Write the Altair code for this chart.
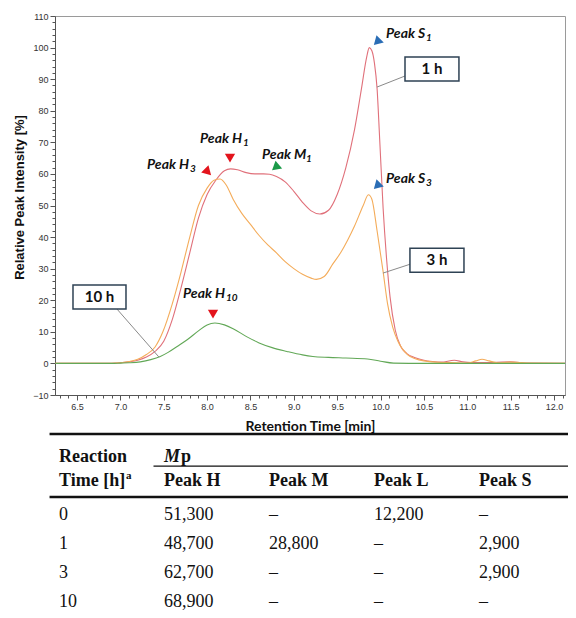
import altair as alt
import pandas as pd

# ---------------- chromatogram values (retention time [min], relative intensity [%]) ----------------
series_names = ["1 h", "3 h", "10 h"]

red_t = [6.25, 6.8, 7.0, 7.1, 7.2, 7.3, 7.4, 7.5, 7.6, 7.7, 7.8, 7.9, 8.0, 8.1, 8.2, 8.27, 8.35, 8.45,
         8.55, 8.65, 8.72, 8.8, 8.9, 9.0, 9.1, 9.2, 9.3, 9.4, 9.5, 9.6, 9.7, 9.78, 9.84, 9.87, 9.9, 9.93,
         9.96, 9.99, 10.03, 10.07, 10.11, 10.17, 10.23, 10.3, 10.4, 10.5, 10.6, 10.7, 10.85, 10.95, 11.05,
         11.3, 11.5, 11.7, 12.127]
red_v = [0, 0, 0.2, 0.5, 1.0, 2.0, 3.8, 7.0, 14, 24, 35, 46, 53.5, 58, 61, 61.6, 61.3, 60.4,
         60.0, 60.0, 59.9, 59.2, 57.5, 54.5, 51, 48.3, 47.3, 48.5, 53.5, 62, 74, 87, 97, 100, 99, 95,
         87, 71, 49, 33, 21, 10.5, 5.5, 3.2, 1.8, 1.0, 0.6, 0.4, 1.0, 0.5, 0.3,
         0.3, 0.5, 0.1, 0]

orange_t = [6.25, 6.8, 7.0, 7.1, 7.2, 7.3, 7.4, 7.49, 7.6, 7.7, 7.8, 7.9, 8.0, 8.08, 8.15, 8.22, 8.3,
            8.4, 8.5, 8.6, 8.7, 8.8, 8.9, 9.0, 9.1, 9.2, 9.26, 9.35, 9.45, 9.55, 9.62, 9.7, 9.8, 9.86,
            9.9, 9.96, 10.03, 10.08, 10.14, 10.2, 10.31, 10.4, 10.5, 10.7, 10.9, 11.0, 11.1, 11.17,
            11.25, 11.35, 11.5, 11.7, 12.127]
orange_v = [0, 0, 0.2, 0.6, 1.3, 2.8, 5.2, 10, 19, 29, 40, 50, 55.5, 58, 58.4, 56.5, 52,
            47.5, 44, 40.5, 37.5, 35, 32.2, 30, 28.2, 27, 26.6, 27.5, 31.5, 35.5, 39, 43.5, 50, 53.4,
            52, 42, 29, 19, 11.5, 7, 2.8, 1.5, 0.8, 0.3, 0.2, 0.1, 0.8, 1.3,
            0.8, 0.2, 0.4, 0.1, 0]

green_t = [6.25, 6.9, 7.0, 7.1, 7.23, 7.35, 7.46, 7.55, 7.65, 7.77, 7.9, 8.0, 8.09, 8.2, 8.3, 8.46,
           8.6, 8.75, 8.92, 9.1, 9.22, 9.4, 9.6, 9.85, 10.0, 10.15, 10.5, 12.127]
green_v = [0, 0, 0.1, 0.2, 0.5, 1.2, 2.2, 3.5, 5.3, 7.5, 10.3, 12.2, 12.8, 12.2, 11.0, 8.4,
           6.5, 5.0, 3.8, 2.7, 2.2, 1.9, 1.7, 1.4, 0.7, 0.1, 0, 0]

# ---------------- peak annotations (data coordinates) ----------------
peak_names = ["Peak S", "Peak S", "Peak H", "Peak M", "Peak H", "Peak H"]
peak_subs = ["1", "3", "1", "1", "3", "10"]
peak_text_x = [10.063, 10.063, 7.918, 8.633, 7.307, 7.722]
peak_text_y = [103.0, 57.1, 69.8, 64.7, 61.6, 20.7]
peak_sub_x = [10.524, 10.524, 8.414, 9.14, 7.803, 8.218]
peak_sub_y = [102.1, 56.2, 68.8, 63.8, 60.6, 19.8]
marker_x = [9.959, 9.959, 8.264, 8.817, 8.010, 8.068]
marker_y = [101.8, 56.2, 65.0, 62.2, 60.6, 15.6]

# boxed series labels and their leader lines
box_labels = ["1 h", "3 h", "10 h"]
box_x = [10.282, 10.339, 6.4535]
box_x2 = [10.904, 10.962, 7.0646]
box_y = [97.0, 36.5, 24.8]
box_y2 = [89.4, 28.9, 17.2]
lead_x = [10.282, 10.351, 6.961]
lead_y = [91.0, 31.5, 17.2]
lead_x2 = [9.959, 10.028, 7.445]
lead_y2 = [87.5, 28.6, 2.0]

# ---------------- table values ----------------
reaction_times = ["0", "1", "3", "10"]
peak_cols = ["Peak H", "Peak M", "Peak L", "Peak S"]
mp_H = ["51,300", "48,700", "62,700", "68,900"]
mp_M = ["\u2013", "28,800", "\u2013", "\u2013"]
mp_L = ["12,200", "\u2013", "\u2013", "\u2013"]
mp_S = ["\u2013", "2,900", "2,900", "\u2013"]

# ---------------- build frames ----------------
rows = []
for name, ts, vs in zip(series_names, [red_t, orange_t, green_t], [red_v, orange_v, green_v]):
    for t, v in zip(ts, vs):
        rows.append({"series": name, "t": t, "v": v})
lines_df = pd.DataFrame(rows)

peak_df = pd.DataFrame({"name": peak_names, "x": peak_text_x, "y": peak_text_y})
sub_df = pd.DataFrame({"sub": peak_subs, "x": peak_sub_x, "y": peak_sub_y})
box_df = pd.DataFrame({"label": box_labels, "x": box_x, "x2": box_x2, "y": box_y, "y2": box_y2})
box_df["cx"] = (box_df["x"] + box_df["x2"]) / 2
box_df["cy"] = (box_df["y"] + box_df["y2"]) / 2
lead_df = pd.DataFrame({"x": lead_x, "y": lead_y, "x2": lead_x2, "y2": lead_y2})

HEAD2 = 0.82  # second header line (row index units)
body = []
for i, rt in enumerate(reaction_times):
    body.append({"c": 0, "r": i + 2, "text": rt})
    for j, col in enumerate([mp_H, mp_M, mp_L, mp_S]):
        body.append({"c": j + 1, "r": i + 2, "text": col[i]})
body_df = pd.DataFrame(body)
head_df = pd.DataFrame(
    [{"c": 0, "r": 0, "text": "Reaction"}, {"c": 0, "r": HEAD2, "text": "Time [h]"}]
    + [{"c": j + 1, "r": HEAD2, "text": p} for j, p in enumerate(peak_cols)]
)

# ---------------- scales / axes ----------------
red, orange, green = "#e0707a", "#f4ac5a", "#62a857"
x_scale = alt.Scale(domain=[6.246, 12.127], nice=False, zero=False)
y_scale = alt.Scale(domain=[-10, 110], nice=False, zero=False)
x_vals = [round(6.3 + 0.1 * i, 1) for i in range(59)]
y_vals = list(range(-10, 111, 2))
x_major = "abs(datum.value*2 - round(datum.value*2)) < 0.001"
y_major = "datum.value % 10 == 0"

x_axis = alt.Axis(
    title="Retention Time [min]", values=x_vals, format=".1f",
    labelExpr=f"({x_major}) ? datum.label : ''",
    tickSize={"condition": {"test": x_major, "value": 5}, "value": 3},
    labelOverlap=False, labelFontSize=9, labelPadding=2, grid=False,
    titleFont="Lato", titleFontSize=14, titleFontWeight="bold", titleColor="#111",
    titleY=31, titleBaseline="middle",
)
y_axis = alt.Axis(
    title="Relative Peak Intensity [%]", values=y_vals,
    labelExpr=f"({y_major}) ? datum.label : ''",
    tickSize={"condition": {"test": y_major, "value": 5}, "value": 3},
    labelOverlap=False, labelFontSize=9, labelPadding=2, grid=False,
    titleFont="Liberation Sans", titleFontSize=13, titleFontWeight="bold", titleColor="#111",
    titleX=-36, titleY=181, titleBaseline="middle", titleAngle=270,
)


def X(field):
    return alt.X(field, type="quantitative", scale=x_scale, axis=x_axis)


def Y(field):
    return alt.Y(field, type="quantitative", scale=y_scale, axis=y_axis)


lines = alt.Chart(lines_df).mark_line(strokeWidth=1.1, interpolate="monotone", clip=True).encode(
    x=X("t"), y=Y("v"),
    color=alt.Color("series:N", scale=alt.Scale(domain=series_names, range=[red, orange, green]), legend=None),
)

leaders = alt.Chart(lead_df).mark_rule(color="#8a8a8a", strokeWidth=1).encode(
    x=X("x"), y=Y("y"), x2="x2", y2="y2")
boxes = alt.Chart(box_df).mark_rect(fill="white", stroke="#2e4254", strokeWidth=1.5).encode(
    x=X("x"), y=Y("y"), x2="x2", y2="y2")
box_text = alt.Chart(box_df).mark_text(font="Lato", fontWeight="bold", fontSize=15, color="#111",
                                       baseline="middle").encode(x=X("cx"), y=Y("cy"), text="label:N")

peak_text = alt.Chart(peak_df).mark_text(font="Lato", fontStyle="italic", fontWeight="bold", fontSize=14,
                                         align="left", baseline="alphabetic", color="#111").encode(
    x=X("x"), y=Y("y"), text="name:N")
sub_text = alt.Chart(sub_df).mark_text(font="Lato", fontStyle="italic", fontWeight="bold", fontSize=10,
                                       align="left", baseline="alphabetic", color="#111").encode(
    x=X("x"), y=Y("y"), text="sub:N")

tri_styles = [("#2a6db5", "triangle-down", 45), ("#2a6db5", "triangle-down", 45),
              ("#e3141c", "triangle-down", 0), ("#1a9a48", "triangle-right", 20),
              ("#e3141c", "triangle-down", 315), ("#e3141c", "triangle-down", 0)]
tri_layers = []
for i, (col, shp, ang) in enumerate(tri_styles):
    d = pd.DataFrame({"x": [marker_x[i]], "y": [marker_y[i]]})
    tri_layers.append(alt.Chart(d).mark_point(shape=shp, filled=True, size=105, color=col, opacity=1,
                                              angle=ang).encode(x=X("x"), y=Y("y")))

plot = alt.layer(lines, leaders, boxes, box_text, peak_text, sub_text, *tri_layers)

# ---------------- table ----------------
tx = alt.Scale(domain=[0, 4], range=[4, 424], nice=False, zero=False)
ty = alt.Scale(domain=[0, 5], range=[446, 590.5], nice=False, zero=False)
serif = "Liberation Serif"


def TX(field):
    return alt.X(field, type="quantitative", scale=tx, axis=None)


def TY(field):
    return alt.Y(field, type="quantitative", scale=ty, axis=None)


body_text = alt.Chart(body_df).mark_text(font=serif, fontSize=18, align="left", baseline="alphabetic",
                                         color="#111").encode(x=TX("c"), y=TY("r"), text="text:N")
head_text = alt.Chart(head_df).mark_text(font=serif, fontSize=18, fontWeight="bold", align="left",
                                         baseline="alphabetic", color="#111").encode(
    x=TX("c"), y=TY("r"), text="text:N")
mp_df = pd.DataFrame({"c": [1], "r": [0], "M": ["M"], "p": ["p"], "a": ["a"], "c0": [0], "r1": [HEAD2]})
mp_M_text = alt.Chart(mp_df).mark_text(font=serif, fontSize=18, fontWeight="bold", fontStyle="italic",
                                       align="left", baseline="alphabetic", color="#111").encode(
    x=TX("c"), y=TY("r"), text="M:N")
mp_p_text = alt.Chart(mp_df).mark_text(font=serif, fontSize=18, fontWeight="bold", align="left", dx=17,
                                       baseline="alphabetic", color="#111").encode(
    x=TX("c"), y=TY("r"), text="p:N")
sup_text = alt.Chart(mp_df).mark_text(font=serif, fontSize=11, fontWeight="bold", align="left", dx=67, dy=-7,
                                      baseline="alphabetic", color="#111").encode(
    x=TX("c0"), y=TY("r1"), text="a:N")


def hrule(y, x0, width):
    d = pd.DataFrame({"y": [y], "x0": [x0], "x1": [5.0]})
    return alt.Chart(d).mark_rule(color="#111", strokeWidth=width).encode(
        x=TX("x0"), x2="x1", y=TY("y"))


table = alt.layer(body_text, head_text, mp_M_text, mp_p_text, sup_text,
                  hrule(-0.97, -0.09, 2.5), hrule(0.14, 0.9, 1.3), hrule(1.21, -0.09, 2.5))

chart = alt.layer(plot, table).resolve_scale(x="independent", y="independent").properties(
    width=510, height=379,
    padding={"left": 47, "top": 8, "right": 3, "bottom": 215},
    autosize=alt.AutoSizeParams(type="none"),
    background="white",
).configure_view(stroke="#9a9a9a", strokeWidth=1).configure_axis(
    domainColor="#555", tickColor="#555", labelColor="#333", labelFont="Liberation Sans",
)

chart.save("out.html", embed_options={"renderer": "svg", "actions": False})
